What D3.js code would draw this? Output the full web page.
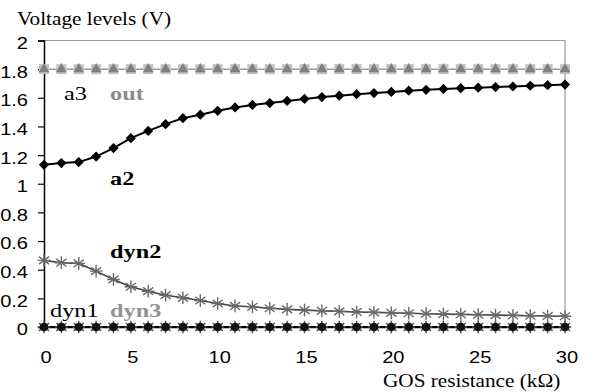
<!DOCTYPE html>
<html>
<head>
<meta charset="utf-8">
<script src="https://cdn.jsdelivr.net/npm/d3@7"></script>
<style>
  html, body { margin: 0; padding: 0; background: #fff; }
  svg { display: block; }
  .tick-label { font-family: "Liberation Sans", Arial, sans-serif; font-size: 17px; fill: #000; }
  .title { font-family: "Liberation Serif", "Times New Roman", serif; font-size: 18px; fill: #000; }
  .lbl { font-family: "Liberation Serif", "Times New Roman", serif; font-size: 19px; }
</style>
</head>
<body>
<svg id="chart" width="598" height="392"></svg>
<script>
// GOS resistance sweep (kΩ)
const resistance = d3.range(0, 31);

// Node voltages (V) vs. resistance
const a2 = [1.132, 1.144, 1.151, 1.19, 1.249, 1.318, 1.369, 1.416, 1.458, 1.482, 1.509, 1.533, 1.55, 1.563, 1.578,
            1.592, 1.605, 1.615, 1.625, 1.633, 1.641, 1.65, 1.656, 1.662, 1.667, 1.671, 1.675, 1.679, 1.684, 1.688, 1.692];
const a3 = resistance.map(() => 1.8);
const out = resistance.map(() => 1.8);
const dyn2 = [0.465, 0.449, 0.444, 0.39, 0.332, 0.281, 0.25, 0.222, 0.204, 0.185, 0.164, 0.147, 0.141, 0.131, 0.123,
              0.118, 0.113, 0.109, 0.105, 0.102, 0.099, 0.096, 0.093, 0.09, 0.088, 0.086, 0.083, 0.081, 0.079, 0.077, 0.075];
const dyn1 = resistance.map(() => 0);
const dyn3 = resistance.map(() => 0);

const xTicks = [0, 5, 10, 15, 20, 25, 30];
const yTicks = [0, 0.2, 0.4, 0.6, 0.8, 1, 1.2, 1.4, 1.6, 1.8, 2];

const svg = d3.select("#chart");
const mLeft = 44, mRight = 565, mTop = 40.5, mBottom = 327;
const textStretch = 1.18;   // typeface is set slightly wide

const x = d3.scaleLinear().domain([0, 30]).range([mLeft, mRight]);
const y = d3.scaleLinear().domain([0, 2]).range([mBottom, mTop]);

// Plot frame: light top/right border
svg.append("path")
  .attr("d", `M${mLeft},${mTop}H${mRight}V${mBottom}`)
  .attr("fill", "none").attr("stroke", "#9a9a9a").attr("stroke-width", 1.2);

// Y axis
const yAxis = svg.append("g").attr("transform", `translate(${mLeft},0)`)
  .call(d3.axisLeft(y).tickValues(yTicks).tickSize(6).tickPadding(10)
    .tickFormat(d => d3.format("~g")(d)));
yAxis.select(".domain").attr("stroke", "#000").attr("stroke-width", 1.5);
yAxis.selectAll(".tick line").attr("stroke", "#000").attr("stroke-width", 1.2);
yAxis.selectAll(".tick text")
  .attr("class", "tick-label").attr("font-size", null).attr("font-family", null)
  .attr("x", 0).attr("dy", "0.32em")
  .attr("transform", `translate(-16,2.5) scale(${textStretch},1)`);

// X axis
const xAxis = svg.append("g").attr("transform", `translate(0,${mBottom})`)
  .call(d3.axisBottom(x).tickValues(xTicks).tickSize(0).tickPadding(0));
xAxis.select(".domain").attr("stroke", "#000").attr("stroke-width", 1.5);
xAxis.selectAll(".tick text")
  .attr("class", "tick-label").attr("font-size", null).attr("font-family", null)
  .attr("y", 0).attr("dy", 0)
  .attr("transform", `translate(1.5,36) scale(${textStretch},1)`);

const line = d3.line().x((d, i) => x(resistance[i])).y(d => y(d));

function drawLine(vals, color, width) {
  svg.append("path").datum(vals).attr("d", line)
    .attr("fill", "none").attr("stroke", color).attr("stroke-width", width);
}

function drawMarkers(vals, symbolType, size, fill, stroke, sw, rotate = 0) {
  svg.append("g").selectAll("path").data(vals).join("path")
    .attr("transform", (d, i) => `translate(${x(resistance[i])},${y(d)}) rotate(${rotate})`)
    .attr("d", d3.symbol().type(symbolType).size(size))
    .attr("fill", fill).attr("stroke", stroke).attr("stroke-width", sw);
}

// Star marker: vertical bar crossed by an X
const star = {
  draw(ctx, size) {
    const r = Math.sqrt(size) / 2;
    const d = r * 0.8;
    ctx.moveTo(0, -r); ctx.lineTo(0, r);
    ctx.moveTo(-d, -d * 0.75); ctx.lineTo(d, d * 0.75);
    ctx.moveTo(-d, d * 0.75); ctx.lineTo(d, -d * 0.75);
    ctx.moveTo(-r, 0); ctx.lineTo(r, 0);
  }
};

// a3 / out at 1.8 V
drawLine(a3, "#9a9a9a", 1.5);
drawMarkers(a3, d3.symbolSquare, 100, "#c2c2c2", "none", 0);
drawMarkers(out, d3.symbolTriangle, 50, "#808080", "none", 0);

// dyn1 / dyn3 at 0 V
drawLine(dyn1, "#000", 2);
drawMarkers(dyn3, star, 160, "none", "#555", 1.5);
drawMarkers(dyn1, d3.symbolCircle, 60, "#111", "none", 0);

// dyn2
drawLine(dyn2, "#444", 1.6);
drawMarkers(dyn2, star, 160, "none", "#6a6a6a", 1.4);

// a2
drawLine(a2, "#000", 2);
drawMarkers(a2, d3.symbolSquare, 52, "#000", "none", 0, 45);

// Axis titles
svg.append("text").attr("class", "title")
  .attr("transform", `translate(17,25) scale(${textStretch},1)`).text("Voltage levels (V)");
svg.append("text").attr("class", "title")
  .attr("transform", `translate(383,387) scale(${textStretch},1)`).text("GOS resistance (kΩ)");

// Series labels
const labels = [
  { t: "a3", x: 64, y: 100, w: "normal", c: "#000" },
  { t: "out", x: 110, y: 100, w: "bold", c: "#8a8a8a" },
  { t: "a2", x: 110, y: 185, w: "bold", c: "#000" },
  { t: "dyn2", x: 110, y: 258, w: "bold", c: "#000" },
  { t: "dyn1", x: 50, y: 317, w: "normal", c: "#000" },
  { t: "dyn3", x: 110, y: 317, w: "bold", c: "#929292" }
];
svg.append("g").selectAll("text").data(labels).join("text")
  .attr("class", "lbl")
  .attr("transform", d => `translate(${d.x},${d.y}) scale(1.28,1)`)
  .attr("font-weight", d => d.w).attr("fill", d => d.c).text(d => d.t);
</script>
</body>
</html>
